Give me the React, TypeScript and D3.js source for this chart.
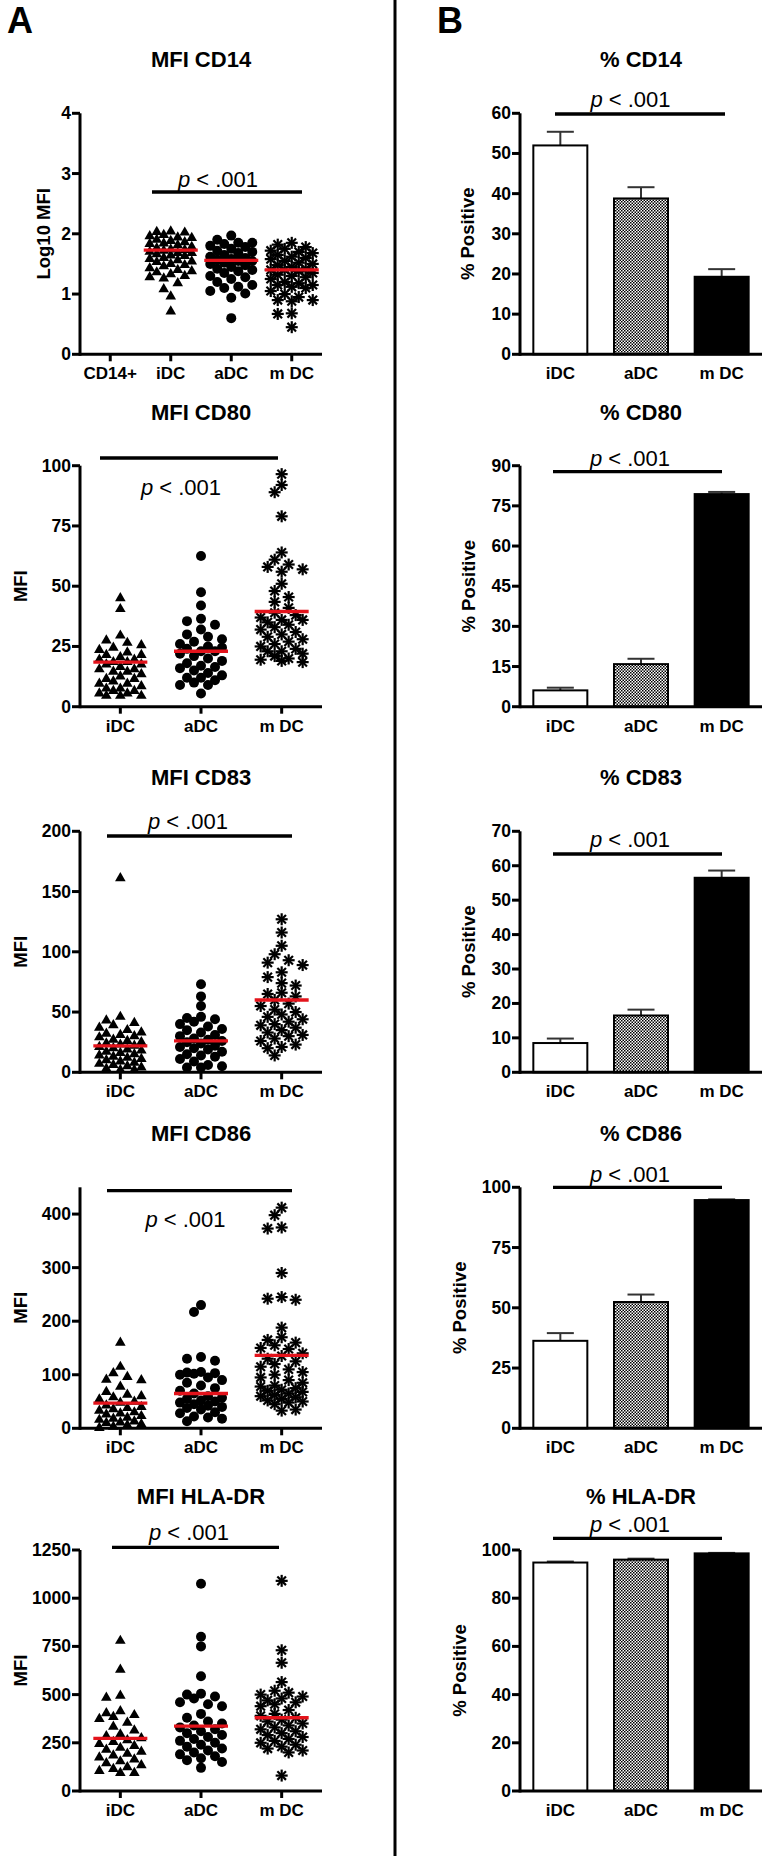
import React from 'react';
import * as d3 from 'd3';

const FONT = '"Liberation Sans", Arial, Helvetica, sans-serif';

// ---------- categories ----------
const catsA1 = ['CD14+', 'iDC', 'aDC', 'mDC'];
const cats = ['iDC', 'aDC', 'mDC'];
const catLabel: Record<string, string> = { 'CD14+': 'CD14+', iDC: 'iDC', aDC: 'aDC', mDC: 'm DC' };

// ---------- Panel A: MFI scatter values ----------
const cd14_iDC = [2.06, 2.05, 2.04, 2.0, 1.98, 1.96, 1.95, 1.92, 1.9, 1.88, 1.86, 1.85, 1.83, 1.8, 1.78, 1.76, 1.75, 1.74, 1.72, 1.7, 1.7, 1.68, 1.66, 1.65, 1.62, 1.6, 1.58, 1.56, 1.55, 1.52, 1.5, 1.48, 1.45, 1.42, 1.4, 1.38, 1.35, 1.32, 1.3, 1.28, 1.2, 1.1, 0.98, 0.73];
const cd14_aDC = [1.97, 1.9, 1.85, 1.85, 1.83, 1.8, 1.78, 1.75, 1.72, 1.7, 1.68, 1.65, 1.62, 1.6, 1.58, 1.57, 1.55, 1.55, 1.52, 1.5, 1.48, 1.45, 1.42, 1.4, 1.38, 1.35, 1.3, 1.28, 1.25, 1.2, 1.15, 1.12, 1.1, 1.05, 1.01, 0.94, 0.6];
const cd14_mDC = [1.85, 1.82, 1.78, 1.75, 1.72, 1.7, 1.68, 1.65, 1.62, 1.6, 1.58, 1.55, 1.52, 1.5, 1.48, 1.45, 1.42, 1.4, 1.4, 1.38, 1.35, 1.32, 1.3, 1.28, 1.25, 1.2, 1.18, 1.15, 1.15, 1.12, 1.1, 1.05, 1.0, 0.95, 0.9, 0.9, 0.88, 0.68, 0.67, 0.45];

const cd80_iDC = [45.5, 41, 30, 28, 27, 26, 25, 24, 23, 22, 22, 21, 20, 20, 19, 19, 18, 18, 17, 16, 16, 15, 15, 14, 13, 12, 12, 11, 10, 10, 9, 8, 8, 7, 7, 6, 6, 5, 5, 5];
const cd80_aDC = [62.5, 47.5, 42, 36.5, 35.5, 34, 32, 30, 29, 28, 27, 26, 25, 24.5, 24, 23, 23, 22, 21, 20, 19, 18, 17, 16.5, 16, 15, 14, 13, 12, 12, 11, 10, 9, 9, 5.5];
const cd80_mDC = [96.5, 92, 89, 79, 64, 61, 59, 58, 57, 56, 51, 48, 45.5, 43.5, 41, 39, 38, 37, 36, 36, 35, 34, 33, 32, 31, 30, 29, 28, 27, 26, 25, 24, 23, 23, 22, 21, 20, 19.5, 19, 18.5];

const cd83_iDC = [162, 47, 44, 42, 40, 38, 36, 34, 33, 32, 31, 30, 28, 27, 26, 25, 24, 23, 22, 21, 20, 19, 18, 17, 16, 15, 14, 13, 12, 11, 10, 9, 8, 7, 6, 5, 4, 3, 3];
const cd83_aDC = [73, 63, 55, 46, 45, 44, 42, 40, 38, 36, 35, 33, 31, 30, 28, 27, 26, 25, 24, 22, 21, 20, 19, 17, 15, 14, 13, 11, 9, 6, 5, 4, 4];
const cd83_mDC = [127, 116, 105, 98, 93, 91, 89, 83, 79, 74, 72, 66, 65, 63, 60, 57, 55, 52, 50, 48, 46, 44, 42, 40, 39, 37, 35, 33, 31, 30, 28, 26, 23, 21, 20, 14];

const cd86_iDC = [162, 117, 105, 98, 93, 92, 80, 70, 65, 62, 60, 56, 52, 50, 45, 42, 40, 38, 35, 32, 30, 28, 25, 22, 20, 18, 15, 13, 12, 10, 8, 5, 3];
const cd86_aDC = [230, 217, 133, 130, 126, 105, 104, 103, 102, 100, 95, 90, 85, 80, 75, 70, 65, 60, 57, 55, 52, 50, 48, 45, 42, 40, 38, 35, 30, 28, 22, 20, 18, 13];
const cd86_mDC = [412, 398, 375, 373, 290, 245, 242, 240, 188, 170, 165, 160, 155, 150, 148, 140, 135, 130, 125, 120, 115, 110, 105, 100, 95, 90, 85, 80, 78, 75, 72, 70, 68, 65, 62, 60, 58, 55, 52, 50, 48, 45, 35, 33];

const hla_iDC = [785, 635, 500, 490, 420, 410, 400, 390, 380, 360, 340, 320, 300, 290, 280, 270, 260, 250, 240, 230, 220, 210, 200, 190, 180, 170, 160, 150, 140, 130, 120, 110, 100, 100];
const hla_aDC = [1075, 800, 750, 595, 505, 500, 490, 480, 460, 450, 440, 400, 380, 360, 350, 340, 330, 320, 310, 300, 290, 280, 270, 260, 250, 240, 230, 220, 210, 200, 190, 180, 170, 160, 150, 120];
const hla_mDC = [1090, 730, 665, 565, 520, 510, 500, 490, 480, 470, 460, 450, 440, 420, 400, 390, 380, 370, 360, 350, 340, 330, 320, 310, 300, 290, 280, 270, 260, 250, 240, 230, 220, 210, 200, 80];

// central (red) lines
const cd14_center = [1.73, 1.56, 1.40];
const cd80_center = [18.5, 23, 39.5];
const cd83_center = [22, 26, 60];
const cd86_center = [47, 65, 136];
const hla_center = [273, 337, 380];

// ---------- Panel B: % positive bars ----------
const cd14_pct = [52, 38.8, 19.3];
const cd14_sem = [3.4, 2.8, 1.9];
const cd80_pct = [6.1, 15.9, 79.4];
const cd80_sem = [1.0, 2.0, 0.8];
const cd83_pct = [8.5, 16.5, 56.5];
const cd83_sem = [1.3, 1.7, 2.1];
const cd86_pct = [36.3, 52.4, 94.7];
const cd86_sem = [3.2, 3.1, 0.3];
const hla_pct = [94.8, 96.0, 98.6];
const hla_sem = [0.4, 0.4, 0.2];

// tick labels
const ticksA = [[0, 1, 2, 3, 4], [0, 25, 50, 75, 100], [0, 50, 100, 150, 200], [0, 100, 200, 300, 400], [0, 250, 500, 750, 1000, 1250]];
const maxA = [4, 100, 200, 450, 1250];
const ticksB = [[0, 10, 20, 30, 40, 50, 60], [0, 15, 30, 45, 60, 75, 90], [0, 10, 20, 30, 40, 50, 60, 70], [0, 25, 50, 75, 100], [0, 20, 40, 60, 80, 100]];
const maxB = [60, 90, 70, 100, 100];

const titlesA = ['MFI CD14', 'MFI CD80', 'MFI CD83', 'MFI CD86', 'MFI HLA-DR'];
const titlesB = ['% CD14', '% CD80', '% CD83', '% CD86', '% HLA-DR'];
const yLabelsA = ['Log10 MFI', 'MFI', 'MFI', 'MFI', 'MFI'];
const yLabelB = '% Positive';

const scatterA = [
  [cd14_iDC, cd14_aDC, cd14_mDC],
  [cd80_iDC, cd80_aDC, cd80_mDC],
  [cd83_iDC, cd83_aDC, cd83_mDC],
  [cd86_iDC, cd86_aDC, cd86_mDC],
  [hla_iDC, hla_aDC, hla_mDC],
];
const centersA = [cd14_center, cd80_center, cd83_center, cd86_center, hla_center];
const barsB = [cd14_pct, cd80_pct, cd83_pct, cd86_pct, hla_pct];
const semB = [cd14_sem, cd80_sem, cd83_sem, cd86_sem, hla_sem];

// ---------- layout ----------
const ROW_Y0 = [354.3, 706.7, 1072.3, 1428.3, 1791];
const PLOT_H = 241;
const AX = [80, 322];
const BX = [520, 762];
const yLabelXA = [43, 20, 20, 20, 20];
const yLabelXB = [467, 468, 468, 459, 459];
const sigA = [
  { x1: 152, x2: 302, ly: 192, tx: 218, ty: 187 },
  { x1: 100, x2: 278, ly: 458, tx: 181, ty: 495 },
  { x1: 107, x2: 292, ly: 836, tx: 188, ty: 829 },
  { x1: 107, x2: 292, ly: 1190.7, tx: 185.5, ty: 1226.7 },
  { x1: 112, x2: 279, ly: 1547.3, tx: 189, ty: 1540 },
];
const sigB = [
  { x1: 555, x2: 725, ly: 114, tx: 630.5, ty: 107.3 },
  { x1: 553, x2: 722, ly: 471.7, tx: 630, ty: 466 },
  { x1: 553, x2: 722, ly: 854, tx: 630, ty: 847.3 },
  { x1: 553, x2: 722, ly: 1187.3, tx: 630, ty: 1181.7 },
  { x1: 553, x2: 722, ly: 1538.3, tx: 630, ty: 1531.7 },
];

// beeswarm-style horizontal spreading (layout only; values come from the arrays)
function swarm(values: number[], y: (v: number) => number, cx: number) {
  const step = 7;
  const offsets = [0, -step, step, -2 * step, 2 * step, -3 * step, 3 * step];
  const minDist = 9.5;
  const sorted = [...values].sort((a, b) => b - a);
  const out: { x: number; y: number }[] = [];
  for (const v of sorted) {
    const py = y(v);
    let chosen = 0;
    let best = -1;
    for (const o of offsets) {
      let dmin = Infinity;
      for (const p of out) {
        const dx = p.x - (cx + o);
        const dy = p.y - py;
        dmin = Math.min(dmin, Math.hypot(dx, dy));
      }
      if (dmin >= minDist) { chosen = o; best = Infinity; break; }
      if (dmin > best) { best = dmin; chosen = o; }
    }
    out.push({ x: cx + chosen, y: py });
  }
  return out;
}

const TRI = 'M0,-5L5.3,4.2L-5.3,4.2Z';

function Marker({ kind, x, y }: { kind: number; x: number; y: number }) {
  if (kind === 0) return <path d={TRI} transform={`translate(${x},${y})`} fill="#000" />;
  if (kind === 1) return <circle cx={x} cy={y} r={5} fill="#000" />;
  const r = 6, d = 4.3;
  return (
    <g transform={`translate(${x},${y})`} stroke="#000" strokeWidth={2.2} strokeLinecap="butt">
      <line x1={-r} y1={0} x2={r} y2={0} />
      <line x1={0} y1={-r} x2={0} y2={r} />
      <line x1={-d} y1={-d} x2={d} y2={d} />
      <line x1={-d} y1={d} x2={d} y2={-d} />
    </g>
  );
}

function PText({ x, y }: { x: number; y: number }) {
  return (
    <text x={x} y={y} textAnchor="middle" fontSize={22} fontFamily={FONT}>
      <tspan fontStyle="italic">p</tspan> &lt; .001
    </text>
  );
}

function YAxis({ x, y, ticks }: { x: number; y: d3.ScaleLinear<number, number>; ticks: number[] }) {
  const [r0, r1] = y.range();
  return (
    <g>
      <line x1={x} x2={x} y1={r0 + 1.5} y2={r1} stroke="#000" strokeWidth={3} />
      {ticks.map((t) => (
        <g key={t}>
          <line x1={x - 8} x2={x} y1={y(t)} y2={y(t)} stroke="#000" strokeWidth={3} />
          <text x={x - 9} y={y(t) + 6} textAnchor="end" fontSize={17.5} fontWeight="bold" fontFamily={FONT}>{t}</text>
        </g>
      ))}
    </g>
  );
}

function ScatterPanel({ i }: { i: number }) {
  const y0 = ROW_Y0[i];
  const domainCats = i === 0 ? catsA1 : cats;
  const x = d3.scaleBand<string>().domain(domainCats).range(AX as [number, number]);
  const cx = (c: string) => (x(c) as number) + x.bandwidth() / 2;
  const y = d3.scaleLinear().domain([0, maxA[i]]).range([y0, y0 - PLOT_H]);
  const s = sigA[i];
  return (
    <g>
      <text x={(AX[0] + AX[1]) / 2} y={y0 - PLOT_H - 46} textAnchor="middle" fontSize={22} fontWeight="bold" fontFamily={FONT}>{titlesA[i]}</text>
      <text transform={`translate(${yLabelXA[i] + 6.5},${y0 - PLOT_H / 2}) rotate(-90)`} textAnchor="middle" fontSize={18.5} fontWeight="bold" fontFamily={FONT}>{yLabelsA[i]}</text>
      {scatterA[i].map((vals, g) => {
        const c = cats[g];
        return swarm(vals, y, cx(c)).map((p, k) => <Marker key={`${g}-${k}`} kind={g} x={p.x} y={p.y} />);
      })}
      {centersA[i].map((v, g) => (
        <line key={g} x1={cx(cats[g]) - 27} x2={cx(cats[g]) + 27} y1={y(v)} y2={y(v)} stroke="#e3131b" strokeWidth={3.3} />
      ))}
      <YAxis x={AX[0]} y={y} ticks={ticksA[i]} />
      <line x1={AX[0]} x2={AX[1]} y1={y0} y2={y0} stroke="#000" strokeWidth={3} />
      {domainCats.map((c) => (
        <g key={c}>
          <line x1={cx(c)} x2={cx(c)} y1={y0} y2={y0 + 7} stroke="#000" strokeWidth={3} />
          <text x={cx(c)} y={y0 + 25} textAnchor="middle" fontSize={17} fontWeight="bold" fontFamily={FONT}>{catLabel[c]}</text>
        </g>
      ))}
      <line x1={s.x1} x2={s.x2} y1={s.ly} y2={s.ly} stroke="#000" strokeWidth={3.3} />
      <PText x={s.tx} y={s.ty} />
    </g>
  );
}

const barFill = ['#ffffff', 'url(#checker)', '#000000'];

function BarPanel({ i }: { i: number }) {
  const y0 = ROW_Y0[i];
  const x = d3.scaleBand<string>().domain(cats).range(BX as [number, number]);
  const cx = (c: string) => (x(c) as number) + x.bandwidth() / 2;
  const y = d3.scaleLinear().domain([0, maxB[i]]).range([y0, y0 - PLOT_H]);
  const s = sigB[i];
  const bw = 54;
  return (
    <g>
      <text x={(BX[0] + BX[1]) / 2} y={y0 - PLOT_H - 46} textAnchor="middle" fontSize={22} fontWeight="bold" fontFamily={FONT}>{titlesB[i]}</text>
      <text transform={`translate(${yLabelXB[i] + 6.5},${y0 - PLOT_H / 2}) rotate(-90)`} textAnchor="middle" fontSize={18.5} fontWeight="bold" fontFamily={FONT}>{yLabelB}</text>
      {barsB[i].map((v, g) => {
        const c = cats[g];
        const top = y(v);
        const et = y(v + semB[i][g]);
        return (
          <g key={g}>
            <line x1={cx(c)} x2={cx(c)} y1={top} y2={et} stroke="#333" strokeWidth={2} />
            <line x1={cx(c) - 13.5} x2={cx(c) + 13.5} y1={et} y2={et} stroke="#333" strokeWidth={2} />
            <rect x={cx(c) - bw / 2} y={top} width={bw} height={y0 - top} fill={barFill[g]} stroke="#000" strokeWidth={2} />
          </g>
        );
      })}
      <YAxis x={BX[0]} y={y} ticks={ticksB[i]} />
      <line x1={BX[0]} x2={BX[1]} y1={y0} y2={y0} stroke="#000" strokeWidth={3} />
      {cats.map((c) => (
        <text key={c} x={cx(c)} y={y0 + 25} textAnchor="middle" fontSize={17} fontWeight="bold" fontFamily={FONT}>{catLabel[c]}</text>
      ))}
      <line x1={s.x1} x2={s.x2} y1={s.ly} y2={s.ly} stroke="#000" strokeWidth={3.3} />
      <PText x={s.tx} y={s.ty} />
    </g>
  );
}

export default function App() {
  const rows = [0, 1, 2, 3, 4];
  return (
    <div style={{ position: 'absolute', left: 0, top: 0 }}>
      <svg width={765} height={1859} style={{ display: 'block', background: '#fff' }}>
        <defs>
          <pattern id="checker" width={3} height={3} patternUnits="userSpaceOnUse">
            <rect width={3} height={3} fill="#fff" />
            <rect width={1.5} height={1.5} fill="#000" />
            <rect x={1.5} y={1.5} width={1.5} height={1.5} fill="#000" />
          </pattern>
        </defs>
        <rect width={765} height={1859} fill="#fff" />
        <text x={7} y={33} fontSize={36} fontWeight="bold" fontFamily={FONT}>A</text>
        <text x={437} y={33} fontSize={36} fontWeight="bold" fontFamily={FONT}>B</text>
        <line x1={395} x2={395} y1={0} y2={1856} stroke="#000" strokeWidth={3} />
        {rows.map((i) => <ScatterPanel key={`a${i}`} i={i} />)}
        {rows.map((i) => <BarPanel key={`b${i}`} i={i} />)}
      </svg>
    </div>
  );
}
